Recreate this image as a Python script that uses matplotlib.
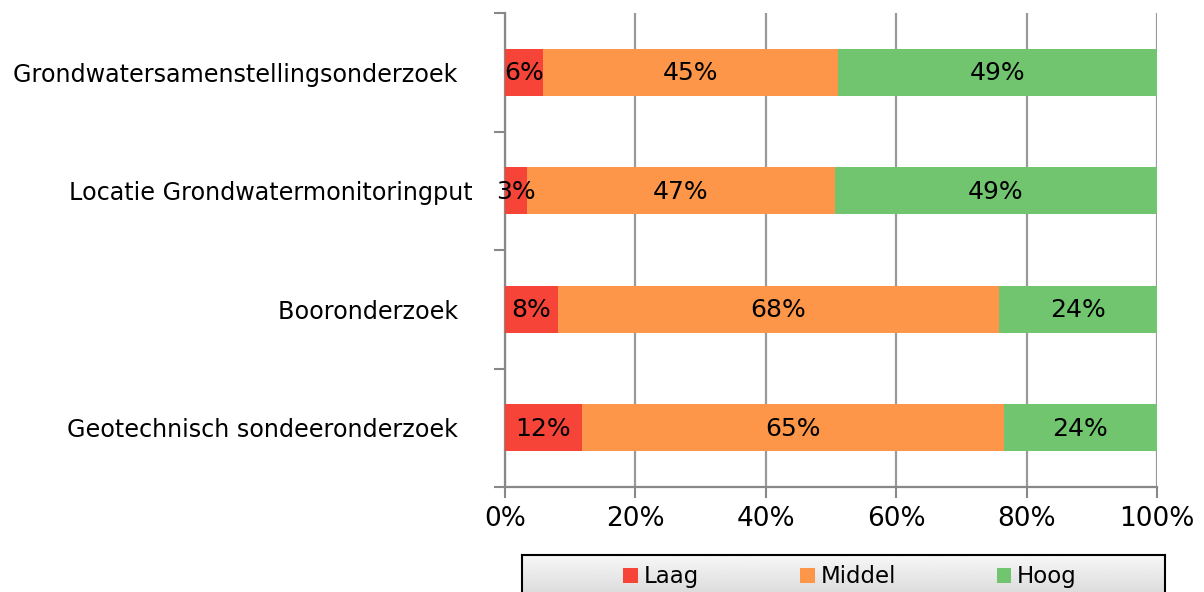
import numpy as np
import matplotlib
matplotlib.use("Agg")
import matplotlib.pyplot as plt

# data, top to bottom as in the chart
categories = ["Grondwatersamenstellingsonderzoek  ", "Locatie Grondwatermonitoringput",
              "Booronderzoek  ", "Geotechnisch sondeeronderzoek  "]
laag = [5.8, 3.4, 8.1, 11.8]
middel = [45.3, 47.2, 67.7, 64.7]
hoog = [48.9, 49.4, 24.2, 23.5]
series_names = ["Laag", "Middel", "Hoog"]
colors = ["#F64438", "#FD9648", "#70C56E"]
xticks = [0, 20, 40, 60, 80, 100]

plt.rcParams['font.family'] = ['DejaVu Sans']
fig = plt.figure(figsize=(12.04, 5.92), dpi=100)
ax = fig.add_axes([505/1204, 1-487/592, (1157-505)/1204, (487-13)/592])

y = np.arange(len(categories))
left = np.zeros(len(categories))
handles = []
for name, vals, col in zip(series_names, [laag, middel, hoog], colors):
    vals = np.array(vals)
    b = ax.barh(y, vals, left=left, height=0.4, color=col, label=name, zorder=3)
    handles.append(b)
    for yi, l, v in zip(y, left, vals):
        ax.text(l + v/2, yi + 0.01, f"{v:.0f}%", ha="center", va="center", fontsize=18, zorder=4)
    left = left + vals

ax.set_xlim(0, 100)
ax.set_ylim(len(categories)-0.5, -0.5)
ax.set_xticks(xticks)
ax.set_xticklabels([f"{t}%" for t in xticks], fontsize=19)
ax.set_yticks(y)
ax.set_yticklabels(categories, fontsize=17.2)
ax.set_yticks(np.arange(len(categories)+1) - 0.5, minor=True)
ax.tick_params(axis="y", which="major", length=0, pad=23)
ax.tick_params(axis="y", which="minor", length=8, width=1.5, color="#888888")
ax.tick_params(axis="x", length=8, width=1.5, color="#888888", pad=6)
ax.grid(axis="x", color="#999999", linewidth=1.6, zorder=0)
for s in ["top", "right"]:
    ax.spines[s].set_visible(False)
for s in ["left", "bottom"]:
    ax.spines[s].set_color("#888888")
    ax.spines[s].set_linewidth(1.6)

# legend box with gradient background
lax = fig.add_axes([522/1204, -0.02, (1165-522)/1204, (592-555)/592 + 0.02])
grad = np.linspace(0.97, 0.83, 50).reshape(-1, 1)
lax.imshow(grad, cmap="gray", vmin=0, vmax=1, aspect="auto", extent=[0, 1, 0, 1])
lax.set_xticks([])
lax.set_yticks([])
for s in lax.spines.values():
    s.set_color("black")
    s.set_linewidth(1.5)
lax.legend(handles=handles, loc="center", bbox_to_anchor=(0.51, 0.55), ncol=3, frameon=False,
           fontsize=16.5, handlelength=0.65, handleheight=0.65, handletextpad=0.25, columnspacing=4.4)

fig.savefig("out.png", dpi=100)
